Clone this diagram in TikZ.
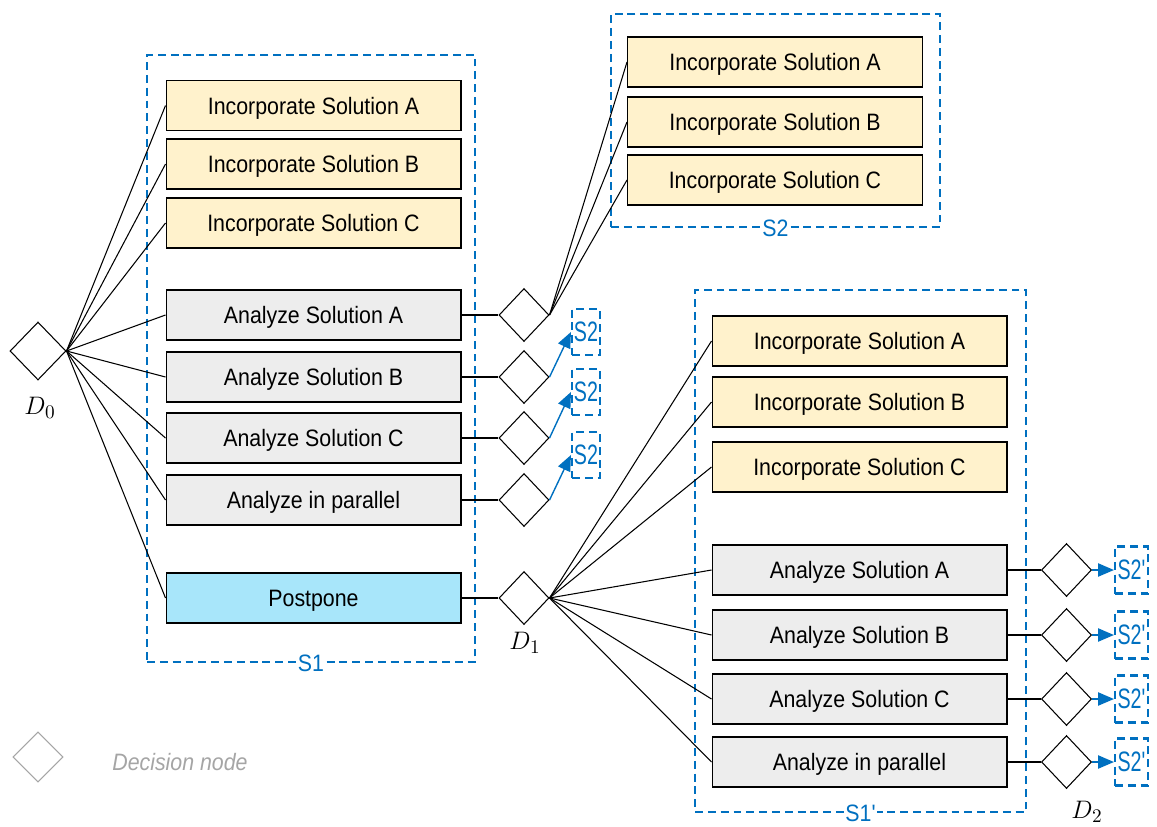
\documentclass[tikz,border=0pt]{standalone}
\usepackage{fontspec}
\usepackage{amsmath}
\usetikzlibrary{shapes.geometric,arrows.meta}
\setmainfont{Liberation Sans}
\newfontfamily\boxfont[FakeStretch=0.9]{Liberation Sans}
\newfontfamily\tagfont[FakeStretch=0.7]{Liberation Sans}

\definecolor{incfill}{RGB}{255,242,204}
\definecolor{anafill}{RGB}{237,237,237}
\definecolor{postfill}{RGB}{168,230,250}
\definecolor{grpblue}{RGB}{0,112,192}
\definecolor{legendgray}{RGB}{165,165,165}

\tikzset{
  box/.style={draw=black, line width=0.6pt, minimum width=5.9cm, minimum height=1cm, inner sep=0pt, text height=9.7pt, text depth=0pt, font=\boxfont\fontsize{13.5}{16}\selectfont},
  incbox/.style={box, fill=incfill},
  anabox/.style={box, fill=anafill},
  postbox/.style={box, fill=postfill},
  decision/.style={shape=diamond, draw=black, line width=0.6pt, minimum width=1cm, minimum height=1.06cm, inner sep=0pt},
  group/.style={draw=grpblue, line width=1.4pt, dash pattern=on 4.5pt off 2.8pt, inner sep=0pt},
  grouplabel/.style={fill=white, text=grpblue, inner sep=1pt, font=\boxfont\fontsize{13.5}{16}\selectfont},
  tagbox/.style={group, line width=1.2pt, text=grpblue, text height=11pt, text depth=0pt, font=\tagfont\fontsize{16}{18}\selectfont},
  dlabel/.style={font=\fontsize{15}{17}\selectfont},
  link/.style={line width=0.6pt},
  jump/.style={draw=grpblue, line width=0.8pt, -{Triangle[length=9pt,width=7.5pt]}},
}

\begin{document}
\begin{tikzpicture}[x=0.02cm, y=-0.02cm]
	\useasboundingbox (0,0) rectangle (1157,826);

	% dashed groups
	\node[group, minimum width=6.56cm, minimum height=12.14cm] (s1) at (311, 358.5) {};
	\node[group, minimum width=6.58cm, minimum height=4.26cm] (s2) at (775.5, 120.5) {};
	\node[group, minimum width=6.62cm, minimum height=10.44cm] (s1p) at (860.5, 551) {};
	\node[grouplabel] (s1lbl) at (s1.south) {S1};
	\node[grouplabel] (s2lbl) at (s2.south) {S2};
	\node[grouplabel] (s1plbl) at (s1p.south) {S1'};

	% first stage
	\node[incbox] (incA) at (313.5, 105.5) {Incorporate Solution A};
	\node[incbox] (incB) at (313.5, 164)   {Incorporate Solution B};
	\node[incbox] (incC) at (313.5, 223)   {Incorporate Solution C};
	\node[anabox] (anaA) at (313.5, 315)   {Analyze Solution A};
	\node[anabox] (anaB) at (313.5, 377)   {Analyze Solution B};
	\node[anabox] (anaC) at (313.5, 438)   {Analyze Solution C};
	\node[anabox] (anaP) at (313.5, 500)   {Analyze in parallel};
	\node[postbox] (post) at (313.5, 598)  {Postpone};

	% second stage after analysing A
	\node[incbox] (s2incA) at (775, 62)  {Incorporate Solution A};
	\node[incbox] (s2incB) at (775, 122) {Incorporate Solution B};
	\node[incbox] (s2incC) at (775, 180) {Incorporate Solution C};

	% stage after postponing
	\node[incbox] (pincA) at (859.5, 341) {Incorporate Solution A};
	\node[incbox] (pincB) at (859.5, 402) {Incorporate Solution B};
	\node[incbox] (pincC) at (859.5, 467) {Incorporate Solution C};
	\node[anabox] (panaA) at (859.5, 570) {Analyze Solution A};
	\node[anabox] (panaB) at (859.5, 635) {Analyze Solution B};
	\node[anabox] (panaC) at (859.5, 699) {Analyze Solution C};
	\node[anabox] (panaP) at (859.5, 762) {Analyze in parallel};

	% decision nodes
	\node[decision, minimum width=1.12cm, minimum height=1.16cm] (d0) at (38, 351) {};
	\node[decision] (dA) at (524, 315) {};
	\node[decision] (dB) at (524, 377) {};
	\node[decision] (dC) at (524, 438) {};
	\node[decision] (dP) at (524, 500) {};
	\node[decision] (d1) at (524, 598) {};
	\node[decision] (eA) at (1066.5, 570) {};
	\node[decision] (eB) at (1066.5, 635) {};
	\node[decision] (eC) at (1066.5, 699) {};
	\node[decision] (eP) at (1066.5, 762) {};
	\node[dlabel] (d0lbl) at (40, 408)   {$D_0$};
	\node[dlabel] (d1lbl) at (525, 643)  {$D_1$};
	\node[dlabel] (d2lbl) at (1087, 812) {$D_2$};

	% references to S2 and S2'
	\node[tagbox, minimum width=0.56cm, minimum height=0.92cm] (tB) at (586, 332) {S2};
	\node[tagbox, minimum width=0.56cm, minimum height=0.92cm] (tC) at (586, 392) {S2};
	\node[tagbox, minimum width=0.56cm, minimum height=0.92cm] (tP) at (586, 455) {S2};
	\node[tagbox, minimum width=0.66cm, minimum height=0.94cm] (uA) at (1131.5, 570) {S2'};
	\node[tagbox, minimum width=0.66cm, minimum height=0.94cm] (uB) at (1131.5, 635) {S2'};
	\node[tagbox, minimum width=0.66cm, minimum height=0.94cm] (uC) at (1131.5, 699) {S2'};
	\node[tagbox, minimum width=0.66cm, minimum height=0.94cm] (uP) at (1131.5, 762) {S2'};

	% connectors
	\foreach \b in {incA,incB,incC,anaA,anaB,anaC,anaP,post}
		\draw[link] (d0.east) -- (\b.west);
	\foreach \b/\d in {anaA/dA,anaB/dB,anaC/dC,anaP/dP,post/d1}
		\draw[link] (\b.east) -- (\d.west);
	\foreach \b in {s2incA,s2incB,s2incC}
		\draw[link] (dA.east) -- (\b.west);
	\foreach \b in {pincA,pincB,pincC,panaA,panaB,panaC,panaP}
		\draw[link] (d1.east) -- (\b.west);
	\foreach \b/\d in {panaA/eA,panaB/eB,panaC/eC,panaP/eP}
		\draw[link] (\b.east) -- (\d.west);
	\foreach \d/\t in {dB/tB,dC/tC,dP/tP,eA/uA,eB/uB,eC/uC,eP/uP}
		\draw[jump] (\d.east) -- (\t.west);

	% legend
	\node[decision, draw=legendgray, minimum width=1cm, minimum height=1cm] (key) at (38, 757) {};
	\node[text=legendgray, font=\boxfont\itshape\fontsize{13.5}{16}\selectfont] (keylbl) at (180, 762) {Decision node};
\end{tikzpicture}
\end{document}
